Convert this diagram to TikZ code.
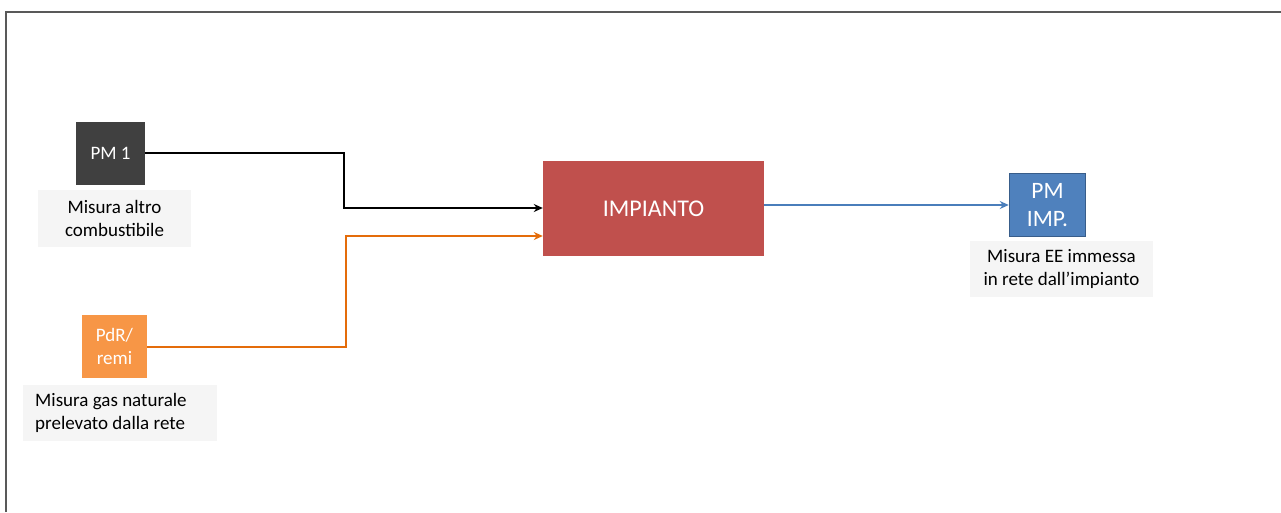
\documentclass[tikz,border=0pt]{standalone}
\usepackage{fontspec}
\setmainfont{Carlito}
\usetikzlibrary{arrows.meta}
\definecolor{frameC}{HTML}{595959}
\definecolor{darkC}{HTML}{404040}
\definecolor{orangeC}{HTML}{F79646}
\definecolor{orangeL}{HTML}{E46C0A}
\definecolor{redC}{HTML}{C0504D}
\definecolor{blueC}{HTML}{4F81BD}
\definecolor{blueB}{HTML}{385D8A}
\definecolor{blueL}{HTML}{4A7EBB}
\definecolor{noteC}{HTML}{F5F5F5}
\tikzset{
  box/.style={inner sep=0pt, text=white, align=center},
  note/.style={fill=noteC, inner sep=0pt, font=\fontsize{19}{22.5}\selectfont},
  conn/.style={line width=2.8pt, -{Stealth[length=9pt,width=8pt]}},
}
\begin{document}
\begin{tikzpicture}[x=1pt,y=-1pt]
\useasboundingbox (0,0) rectangle (1281,512);
% outer frame (top and left edges)
\draw[frameC, line width=1.5pt] (6,512) -- (6,12) -- (1281,12);
% meters and plant
\node[box, fill=darkC, minimum width=69pt, minimum height=63pt, font=\fontsize{19}{22}\selectfont] (pm1) at (110.5,153.5) {PM 1};
\node[note, minimum width=153pt, minimum height=57pt, align=center] (n1) at (114.5,218.5) {Misura altro\\combustibile};
\node[box, fill=orangeC, minimum width=65pt, minimum height=63pt, font=\fontsize{19}{22.5}\selectfont] (pdr) at (114.5,346.5) {PdR/\\remi};
\node[fill=noteC, minimum width=194pt, minimum height=56pt] (n2) at (120,413) {};
\node[note, fill=none, anchor=west, align=left] (n2t) at (35,413) {Misura gas naturale\\prelevato dalla rete};
\node[box, fill=redC, minimum width=221pt, minimum height=95pt, font=\fontsize{24}{28}\selectfont] (imp) at (653.5,208.5) {IMPIANTO};
\node[box, fill=blueC, draw=blueB, line width=1.5pt, minimum width=76pt, minimum height=63pt, font=\fontsize{23.5}{28.5}\selectfont] (pmi) at (1047.5,205) {PM\\IMP.};
\node[note, minimum width=183pt, minimum height=56pt, align=center] (n3) at (1061.5,269) {Misura EE immessa\\in rete dall’impianto};
% connectors
\draw[conn, black] (pm1.east |- 0,153) -- (344,153) -- (344,208) -- (imp.west |- 0,208);
\draw[conn, orangeL] (pdr.east |- 0,347) -- (346,347) -- (346,236) -- (imp.west |- 0,236);
\draw[conn, blueL, line width=2.4pt] (imp.east |- 0,205) -- (pmi.west);
\end{tikzpicture}
\end{document}
